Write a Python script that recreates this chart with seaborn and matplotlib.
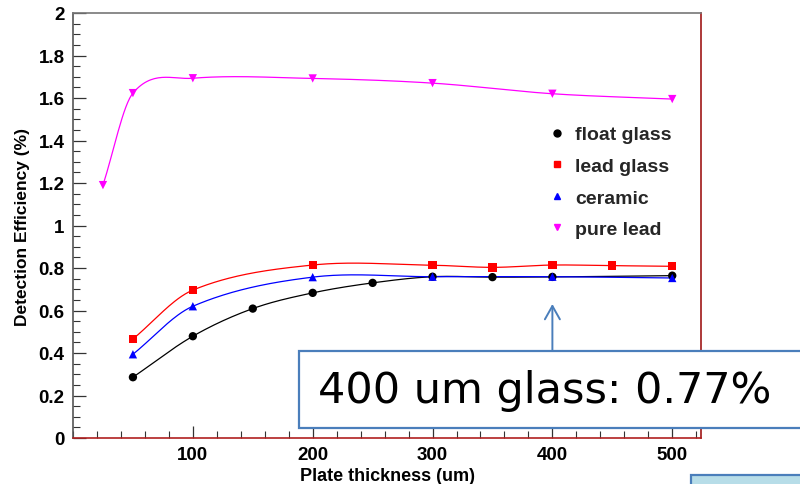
import numpy as np
import pandas as pd
import matplotlib
matplotlib.use("Agg")
import matplotlib.pyplot as plt
from matplotlib.patches import Rectangle
from matplotlib.ticker import MultipleLocator
import seaborn as sns

# Measured detection efficiency (%) versus converter plate thickness (um)
float_x = [50, 100, 150, 200, 250, 300, 350, 400, 500]
float_y = [0.286, 0.479, 0.609, 0.683, 0.730, 0.759, 0.757, 0.758, 0.764]

leadglass_x = [50, 100, 200, 300, 350, 400, 450, 500]
leadglass_y = [0.466, 0.696, 0.814, 0.813, 0.803, 0.814, 0.811, 0.808]

ceramic_x = [50, 100, 200, 300, 400, 500]
ceramic_y = [0.394, 0.620, 0.757, 0.759, 0.759, 0.753]

purelead_x = [25, 50, 100, 200, 300, 400, 500]
purelead_y = [1.190, 1.623, 1.693, 1.692, 1.670, 1.620, 1.595]

series_names = ["float glass", "lead glass", "ceramic", "pure lead"]
series_x = [float_x, leadglass_x, ceramic_x, purelead_x]
series_y = [float_y, leadglass_y, ceramic_y, purelead_y]
colors = ["black", "#ff0000", "#0000ff", "#ff00ff"]
markers = ["o", "s", "^", "v"]

x_ticks = [100, 200, 300, 400, 500]
y_ticks = [0, 0.2, 0.4, 0.6, 0.8, 1, 1.2, 1.4, 1.6, 1.8, 2]
y_tick_labels = ["0", "0.2", "0.4", "0.6", "0.8", "1", "1.2", "1.4", "1.6", "1.8", "2"]


def smooth_curve(x, y, n=300):
    """Cubic Hermite (Catmull-Rom style) curve through the points (x, y)."""
    x = np.asarray(x, float)
    y = np.asarray(y, float)
    k = len(x)
    m = np.empty(k)
    m[0] = (y[1] - y[0]) / (x[1] - x[0])
    m[-1] = (y[-1] - y[-2]) / (x[-1] - x[-2])
    m[1:-1] = (y[2:] - y[:-2]) / (x[2:] - x[:-2])
    xs = np.linspace(x[0], x[-1], n)
    idx = np.clip(np.searchsorted(x, xs) - 1, 0, k - 2)
    h = x[idx + 1] - x[idx]
    t = (xs - x[idx]) / h
    h00 = 2 * t ** 3 - 3 * t ** 2 + 1
    h10 = t ** 3 - 2 * t ** 2 + t
    h01 = -2 * t ** 3 + 3 * t ** 2
    h11 = t ** 3 - t ** 2
    ys = h00 * y[idx] + h10 * h * m[idx] + h01 * y[idx + 1] + h11 * h * m[idx + 1]
    return xs, ys


sns.set_theme(style="white")
plt.rcParams["font.family"] = ["Liberation Sans", "DejaVu Sans"]

fig = plt.figure(figsize=(8.0, 4.85), dpi=100)
ax = fig.add_axes([73 / 800, 46 / 485, (701 - 73) / 800, (439 - 14) / 485])

points = pd.DataFrame({
    "thickness": np.concatenate(series_x),
    "efficiency": np.concatenate(series_y),
    "material": np.repeat(series_names, [len(v) for v in series_x]),
})

curves = []
for name, xv, yv in zip(series_names, series_x, series_y):
    xs, ys = smooth_curve(xv, yv)
    curves.append(pd.DataFrame({"thickness": xs, "efficiency": ys, "material": name}))
curves = pd.concat(curves, ignore_index=True)

palette = dict(zip(series_names, colors))
marker_map = dict(zip(series_names, markers))

sns.lineplot(data=curves, x="thickness", y="efficiency", hue="material",
             palette=palette, hue_order=series_names, linewidth=0.9,
             sort=False, estimator=None, legend=False, ax=ax)
sns.scatterplot(data=points, x="thickness", y="efficiency", hue="material",
                style="material", palette=palette, markers=marker_map,
                hue_order=series_names, style_order=series_names,
                s=36, edgecolor="none", legend=False, ax=ax, zorder=3)

ax.set_xlim(0, 524)
ax.set_ylim(0, 2)
ax.set_xticks(x_ticks)
ax.set_yticks(y_ticks)
ax.set_yticklabels(y_tick_labels)
ax.xaxis.set_minor_locator(MultipleLocator(20))
ax.yaxis.set_minor_locator(MultipleLocator(0.05))
ax.tick_params(which="both", direction="in", top=False, right=False,
               bottom=True, left=True, colors="#333333")
ax.tick_params(which="major", length=9, width=0.9, labelsize=13.5, pad=6)
ax.tick_params(which="minor", length=5, width=0.8)
for lab in ax.get_xticklabels() + ax.get_yticklabels():
    lab.set_fontweight("bold")
    lab.set_color("black")

ax.set_xlabel("Plate thickness (um)", fontsize=13, fontweight="bold",
              color="black", labelpad=3)
ax.set_ylabel("Detection Efficiency (%)", fontsize=12.5, fontweight="bold",
              color="black", labelpad=6)

ax.spines["left"].set_color("#555555")
ax.spines["top"].set_color("#777777")
ax.spines["right"].set_color("#a01818")
ax.spines["bottom"].set_color("#b02020")
for sp in ax.spines.values():
    sp.set_linewidth(1.2)

# Legend
handles = [plt.Line2D([], [], linestyle="none", marker=mk, color=c, markersize=5)
           for mk, c in zip(markers, colors)]
ax.legend(handles, series_names, loc="upper left", bbox_to_anchor=(0.727, 0.776),
          frameon=False, prop={"weight": "bold", "size": 14},
          labelspacing=0.72, handletextpad=0.45, handlelength=1.0)

# Callout box with arrow pointing at the 400 um glass measurement
box = Rectangle((299 / 800, (485 - 429) / 485), (820 - 299) / 800, 77 / 485,
                transform=fig.transFigure, facecolor="white",
                edgecolor="#4a7ebb", linewidth=1.6, zorder=10, clip_on=False)
fig.patches.append(box)
fig.text(318 / 800, (485 - 391) / 485, "400 um glass: 0.77%", fontsize=31,
         family=["DejaVu Sans"], va="center", ha="left", color="black", zorder=11)
ax.annotate("", xy=(400, (439 - 305) / 212.5), xytext=(400, (439 - 352) / 212.5),
            arrowprops=dict(arrowstyle="->,head_length=0.8,head_width=0.45",
                            color="#4a7ebb", linewidth=1.4,
                            shrinkA=0, shrinkB=0), zorder=9)

# Bottom-right panel edge
panel = Rectangle((691 / 800, -0.05), 0.2, (485 - 476) / 485 + 0.05,
                  transform=fig.transFigure, facecolor="#b7dde8",
                  edgecolor="#4a7ebb", linewidth=1.6, zorder=10, clip_on=False)
fig.patches.append(panel)

fig.savefig("out.png", dpi=100, facecolor="white")
